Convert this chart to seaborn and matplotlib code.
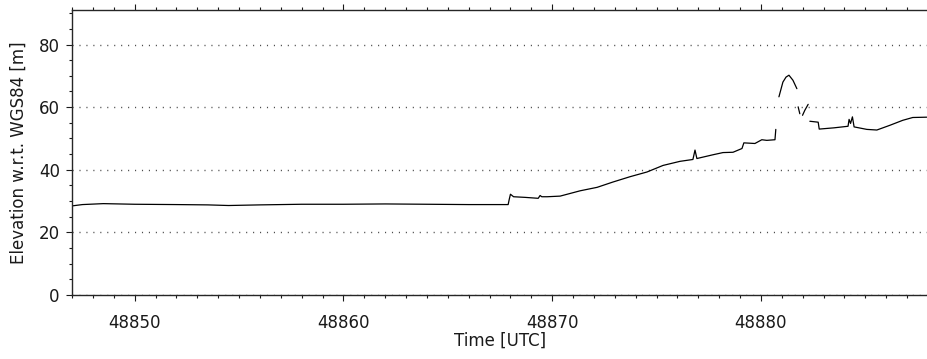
import numpy as np
import pandas as pd
import seaborn as sns
import matplotlib
matplotlib.use("Agg")
import matplotlib.pyplot as plt
from matplotlib.ticker import MultipleLocator

# elevation track, split into the pieces that are drawn as separate lines
seg0_t = [48847.03, 48847.5, 48848.5, 48850.0, 48852.0, 48853.5, 48854.5, 48856.0,
          48858.0, 48860.0, 48862.0, 48864.0, 48866.0, 48867.89, 48867.94, 48868.0,
          48868.15, 48868.70, 48869.33, 48869.42, 48869.5, 48869.76, 48870.38,
          48871.34, 48872.15, 48872.91, 48873.73, 48874.54, 48875.31, 48876.12,
          48876.74, 48876.84, 48876.93, 48877.70, 48878.18, 48878.66, 48879.09,
          48879.18, 48879.71, 48880.04, 48880.28, 48880.67, 48880.71]
seg0_e = [28.5, 28.9, 29.2, 29.0, 28.9, 28.8, 28.6, 28.8,
          29.0, 29.0, 29.1, 29.0, 28.9, 28.9, 30.5, 32.2,
          31.4, 31.2, 30.9, 31.8, 31.4, 31.4, 31.6,
          33.3, 34.4, 36.1, 37.8, 39.3, 41.4, 42.7,
          43.3, 46.3, 43.6, 44.8, 45.5, 45.6, 46.8,
          48.6, 48.4, 49.6, 49.4, 49.6, 52.9]
seg1_t = [48880.86, 48881.05, 48881.20, 48881.34, 48881.53, 48881.72]
seg1_e = [63.3, 68.0, 69.6, 70.2, 68.6, 65.9]
seg2_t = [48881.78, 48881.86]
seg2_e = [60.1, 57.9]
seg3_t = [48881.99, 48882.10, 48882.26]
seg3_e = [57.4, 59.0, 60.9]
seg4_t = [48882.34, 48882.74, 48882.79, 48883.5, 48884.17, 48884.22, 48884.29,
          48884.38, 48884.46, 48885.07, 48885.55, 48886.17, 48886.79, 48887.27,
          48887.94]
seg4_e = [55.5, 55.2, 53.0, 53.4, 53.9, 56.1, 54.8,
          56.9, 53.7, 52.9, 52.7, 54.2, 55.8, 56.7,
          56.8]

segments = [(seg0_t, seg0_e), (seg1_t, seg1_e), (seg2_t, seg2_e),
            (seg3_t, seg3_e), (seg4_t, seg4_e)]
frames = []
for i, (t, e) in enumerate(segments):
    frames.append(pd.DataFrame({"time": t, "elev": e, "seg": i}))
df = pd.concat(frames, ignore_index=True)

sns.set_style("ticks")
plt.rcParams["font.family"] = ["DejaVu Sans"]

fig = plt.figure(figsize=(9.28, 3.59), dpi=100)
ax = fig.add_axes([0.0776, 0.178, 0.9224, 0.794])

sns.lineplot(data=df, x="time", y="elev", units="seg", estimator=None,
             sort=False, color="black", linewidth=0.9, ax=ax)

ax.set_xlim(48847.0, 48888.0)
ax.set_ylim(0, 91)
ax.xaxis.set_major_locator(MultipleLocator(10))
ax.xaxis.set_minor_locator(MultipleLocator(1))
ax.yaxis.set_major_locator(MultipleLocator(20))
ax.yaxis.set_minor_locator(MultipleLocator(5))
ax.xaxis.set_major_formatter(matplotlib.ticker.FormatStrFormatter("%d"))

ax.grid(axis="y", which="major", linestyle=(0, (0.8, 4.2)), color="0.3", linewidth=1)
ax.set_axisbelow(True)

ax.tick_params(which="both", direction="out", top=True, right=False,
               labelsize=12, colors="0.1", width=0.8)
ax.tick_params(which="major", length=4.3)
ax.tick_params(which="minor", length=2.0)
ax.tick_params(axis="x", which="major", pad=9)
ax.tick_params(axis="y", which="major", pad=4.5)

ax.spines["right"].set_visible(False)
for s in ["left", "top", "bottom"]:
    ax.spines[s].set_linewidth(1.0)

ax.set_xlabel("Time [UTC]", fontsize=12, labelpad=0, color="0.1")
ax.set_ylabel("Elevation w.r.t. WGS84 [m]", fontsize=12, labelpad=8, color="0.1")

fig.savefig("out.png", dpi=100)
